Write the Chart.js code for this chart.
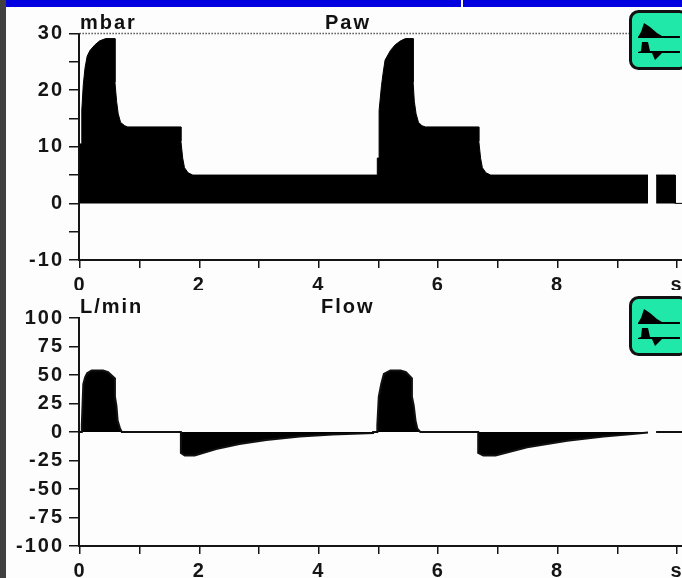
<!DOCTYPE html>
<html><head><meta charset="utf-8">
<script src="https://cdn.jsdelivr.net/npm/chart.js@4"></script>
<style>
html,body{margin:0;padding:0;background:#fdfdfd;overflow:hidden}
#page{position:relative;width:682px;height:578px;overflow:hidden;background:#fdfdfd}
#strip{position:absolute;left:0;top:0;width:6px;height:578px;background:#404040}
#band{position:absolute;left:6px;top:0;width:676px;height:7px;background:#0000e0}
#notch{position:absolute;left:461px;top:0;width:2px;height:8px;background:#fff}
canvas{position:absolute;left:0}
.lab{position:absolute;font:bold 20px "Liberation Sans",sans-serif;letter-spacing:2px;color:#111;line-height:20px;white-space:nowrap}
.icon{position:absolute;left:629px;width:60px;height:60px}
</style></head><body>
<div id="page">
<canvas id="paw" style="top:0"></canvas>
<canvas id="flow" style="top:290px"></canvas>
<div id="strip"></div><div id="band"></div><div id="notch"></div>
<div class="lab" style="left:80px;top:12px">mbar</div>
<div class="lab" style="left:325px;top:12px">Paw</div>
<div class="lab" style="left:80px;top:296px">L/min</div>
<div class="lab" style="left:321px;top:296px">Flow</div>
<svg class="icon" style="top:10px" viewBox="0 0 60 60"><rect x="1.5" y="1.5" width="57" height="57" rx="8" fill="#20e8a8" stroke="#111" stroke-width="3"/><path d="M9 27L12 22 15 13 21 17 28 23 33 26 51 26V28H9Z" fill="#000"/><path d="M9 42L12 41 13 32H19L21 41H51V43H33L26 50 23 43H9Z" fill="#000"/></svg>
<svg class="icon" style="top:296px" viewBox="0 0 60 60"><rect x="1.5" y="1.5" width="57" height="57" rx="8" fill="#20e8a8" stroke="#111" stroke-width="3"/><path d="M9 27L12 22 15 13 21 17 28 23 33 26 51 26V28H9Z" fill="#000"/><path d="M9 42L12 41 13 32H19L21 41H51V43H33L26 50 23 43H9Z" fill="#000"/></svg>
</div>
<script>
const xTickValues = [0,1,2,3,4,5,6,7,8,9,10];
const xTickLabels = {0:'0',2:'2',4:'4',6:'6',8:'8',10:'s'};
const pawTickValues = [-10,-5,0,5,10,15,20,25,30];
const pawTickLabels = {'-10':'-10',0:'0',10:'10',20:'20',30:'30'};
const flowTickValues = [-100,-75,-50,-25,0,25,50,75,100];

const pawTimes = [-0.01,0.03,0.03,0.055,0.085,0.12,0.167,0.25,0.33,0.43,0.585,0.585,0.613,0.64,0.68,0.75,0.80,1.69,1.69,1.72,1.75,1.81,1.89,
  4.98,4.98,5.01,5.01,5.05,5.08,5.11,5.2,5.28,5.37,5.45,5.58,5.58,5.6,5.63,5.67,5.73,5.79,6.68,6.68,6.71,6.74,6.80,6.88,
  9.515,9.6,9.65,9.97,9.97,10.09];
const pawValues = [10.5,10.5,16.5,21,24,26,27,28,28.7,29.1,29.1,21.4,18,15.8,14.3,13.7,13.5,13.5,11,8,6.3,5.4,5,
  5,8,8,16.4,20.8,23.2,25.3,27,28,28.7,29.1,29.1,21.4,18,15.8,14.3,13.7,13.5,13.5,11,8,6.3,5.4,5,
  5,null,5,5,0,0];

const limitTimes = [-0.01,9.28];
const limitValues = [30,30];

const flowTimes = [-0.01,0.03,0.03,0.055,0.085,0.12,0.195,0.385,0.47,0.585,0.585,0.61,0.63,0.67,0.70,1.69,1.69,1.755,1.92,2.28,2.67,3.12,3.68,4.23,4.91,4.91,
  4.98,4.98,5.005,5.045,5.09,5.2,5.37,5.46,5.56,5.56,5.59,5.62,5.65,5.70,6.67,6.67,6.755,6.96,7.49,8.16,8.77,9.25,9.515,
  9.6,9.65,10.09];
const flowValues = [0,0,6,42,48,51.5,54,54,52.5,47,31,23,10,3,0,0,-18.4,-20.6,-20.6,-15,-10.5,-7,-4,-2.3,-1,0,
  0,6,31,42,51,54,54,52.5,47,31,23,10,3,0,0,-18.4,-20.6,-20.6,-13.3,-7.6,-4,-1.7,-0.5,
  null,0,0];

function pts(xs, ys){ return xs.map((x,i)=>({x:x,y:ys[i]})); }
const FONT = {family:'"Liberation Sans",sans-serif',size:20,weight:'bold'};
const INK = '#151515';
const spacing = {id:'spacing',beforeDraw(chart){chart.ctx.letterSpacing='2px';}};

function build(id, w, h, padTop, axisH, yMin, yMax, yTicks, yLabel, datasets){
  const c = document.getElementById(id);
  c.style.width = w+'px'; c.style.height = h+'px';
  return new Chart(c, {
    type:'line',
    data:{datasets:datasets},
    plugins:[spacing],
    options:{
      responsive:false, animation:false, devicePixelRatio:1,
      layout:{autoPadding:false,padding:{top:padTop,left:0,right:0,bottom:0}},
      plugins:{legend:{display:false},tooltip:{enabled:false},title:{display:false}},
      elements:{point:{radius:0},line:{tension:0}},
      scales:{
        x:{type:'linear',min:-0.017,max:10.084,
          afterBuildTicks:s=>{s.ticks=xTickValues.map(v=>({value:v}));},
          afterFit:s=>{s.height=axisH;s.paddingLeft=0;s.paddingRight=0;},
          border:{color:INK,width:2},
          grid:{drawOnChartArea:false,drawTicks:true,tickLength:8,color:INK,lineWidth:1.5},
          ticks:{autoSkip:false,maxRotation:0,padding:5,color:INK,font:FONT,
            callback:v=>xTickLabels[v]??''}
        },
        y:{type:'linear',min:yMin,max:yMax,
          afterBuildTicks:s=>{s.ticks=yTicks.map(v=>({value:v}));},
          afterFit:s=>{s.width=79;s.paddingTop=0;s.paddingBottom=0;},
          border:{color:INK,width:2},
          grid:{drawOnChartArea:false,drawTicks:true,tickLength:10,color:INK,lineWidth:1.5},
          ticks:{autoSkip:false,padding:5,color:INK,font:FONT,callback:yLabel}
        }
      }
    }
  });
}
build('paw',682,290,33.5,30,-10,30,pawTickValues,v=>pawTickLabels[v]??'',[
  {data:pts(limitTimes,limitValues),borderColor:'#555',borderWidth:1.5,borderDash:[1.5,1.5],fill:false,clip:false,pointRadius:0},
  {data:pts(pawTimes,pawValues),borderColor:'#000',borderWidth:1,backgroundColor:'#000',fill:'origin',spanGaps:false,pointRadius:0}
]);
build('flow',682,288,28,32,-100,100,flowTickValues,v=>String(v),[
  {data:pts(flowTimes,flowValues),borderColor:'#111',borderWidth:2,backgroundColor:'#000',fill:'origin',spanGaps:false,pointRadius:0}
]);
</script>
</body></html>
